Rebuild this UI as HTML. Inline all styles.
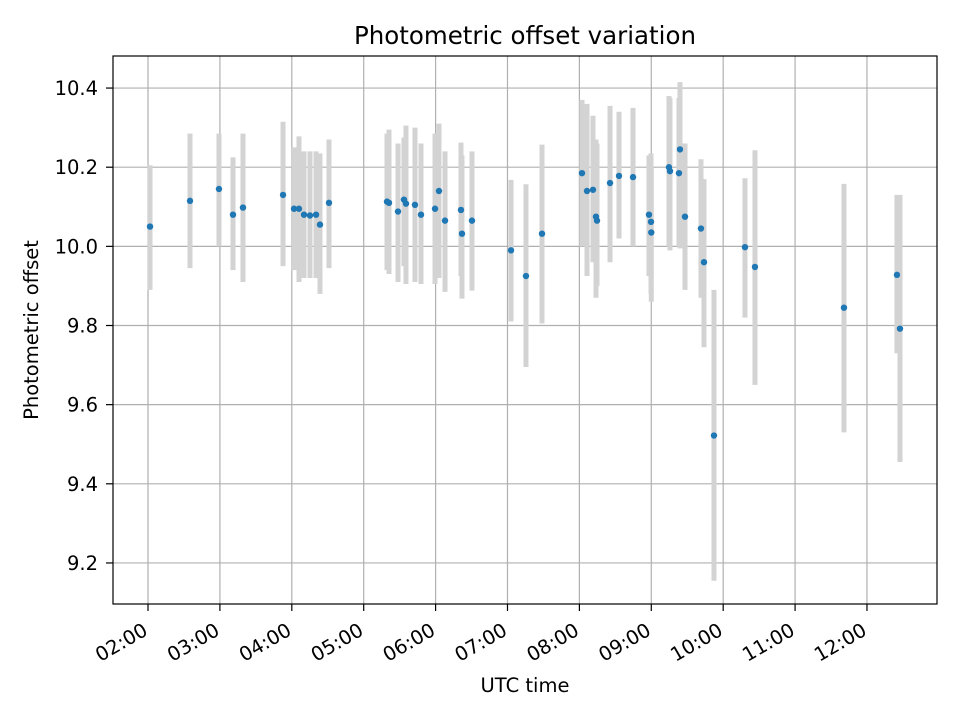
<!DOCTYPE html>
<html><head><meta charset="utf-8"><style>
body{margin:0;background:#fff}
svg text{font-family:"DejaVu Sans","Liberation Sans",sans-serif;fill:#000}
</style></head><body>
<svg id="chart" width="960" height="720" viewBox="0 0 960 720" xmlns="http://www.w3.org/2000/svg">
<rect width="960" height="720" fill="#fff"/>
<g id="grid"></g>
<g id="bars"></g>
<g id="points"></g>
<rect x="113" y="56" width="824" height="548" fill="none" stroke="#000" stroke-width="1.2"/>
<g id="ticks"></g>
<text x="525" y="44" font-size="24.5" text-anchor="middle">Photometric offset variation</text>
<text x="525" y="692" font-size="19.5" text-anchor="middle">UTC time</text>
<text x="38" y="330" font-size="19.5" text-anchor="middle" transform="rotate(-90 38 330)">Photometric offset</text>
</svg>
<script>
const times=[2.028,2.584,2.987,3.182,3.321,3.878,4.031,4.100,4.170,4.253,4.337,4.392,4.517,5.324,5.352,5.477,5.560,5.588,5.713,5.797,5.992,6.047,6.131,6.353,6.367,6.506,7.049,7.257,7.480,8.036,8.106,8.189,8.231,8.245,8.426,8.551,8.746,8.968,8.996,9.0,9.246,9.260,9.385,9.399,9.469,9.691,9.733,9.872,10.303,10.442,11.680,12.417,12.459];
const offsets=[10.05,10.115,10.145,10.08,10.098,10.13,10.095,10.095,10.08,10.078,10.08,10.055,10.11,10.113,10.11,10.088,10.118,10.108,10.105,10.08,10.095,10.14,10.065,10.092,10.032,10.065,9.99,9.925,10.032,10.185,10.14,10.143,10.075,10.065,10.16,10.178,10.175,10.08,10.062,10.035,10.2,10.19,10.185,10.245,10.075,10.045,9.96,9.522,9.998,9.948,9.845,9.928,9.792];
const lows=[9.89,9.945,10.0,9.94,9.91,9.95,9.94,9.91,9.92,9.92,9.92,9.88,9.945,9.94,9.93,9.91,9.95,9.905,9.91,9.905,9.905,9.92,9.885,9.925,9.868,9.888,9.81,9.695,9.805,10.0,9.925,9.96,9.87,9.9,9.96,10.02,10.0,9.925,9.88,9.86,10.0,9.99,10.0,9.995,9.89,9.87,9.745,9.155,9.82,9.65,9.53,9.73,9.455];
const highs=[10.205,10.285,10.285,10.225,10.285,10.315,10.25,10.278,10.24,10.24,10.24,10.235,10.27,10.285,10.295,10.26,10.275,10.305,10.30,10.26,10.285,10.31,10.24,10.262,10.23,10.24,10.168,10.157,10.257,10.37,10.36,10.33,10.27,10.26,10.355,10.34,10.35,10.23,10.235,10.2,10.38,10.375,10.375,10.415,10.26,10.22,10.17,9.89,10.172,10.243,10.158,10.13,10.13];
const yTicks=[9.2,9.4,9.6,9.8,10.0,10.2,10.4];
const xTickHours=[2,3,4,5,6,7,8,9,10,11,12];
const xTickLabels=["02:00","03:00","04:00","05:00","06:00","07:00","08:00","09:00","10:00","11:00","12:00"];
const X0=113,X1=937,Y0=604,Y1=56;
const xMin=1.513,xMax=12.974,yMin=9.0963,yMax=10.481;
const xs=h=>X0+(h-xMin)/(xMax-xMin)*(X1-X0);
const ys=v=>Y0-(v-yMin)/(yMax-yMin)*(Y0-Y1);
const NS="http://www.w3.org/2000/svg";
function mk(tag,attrs,parent){const e=document.createElementNS(NS,tag);for(const k in attrs)e.setAttribute(k,attrs[k]);document.getElementById(parent).appendChild(e);return e;}
yTicks.forEach(v=>{
  const y=ys(v);
  const g=mk('line',{x1:X0,x2:X1,y1:y,y2:y,stroke:'#b0b0b0','stroke-width':1.2},'grid');
  
  
  const t=mk('line',{x1:X0-7,x2:X0,y1:y,y2:y,stroke:'#000','stroke-width':1.2},'ticks');
  
  
  const l=mk('text',{x:X0-15,y:y+7,'font-size':19.5,'text-anchor':'end'},'ticks');
  l.textContent=v.toFixed(1);
  
  
});
xTickHours.forEach((h,i)=>{
  const x=xs(h);
  const g=mk('line',{x1:x,x2:x,y1:Y0,y2:Y1,stroke:'#b0b0b0','stroke-width':1.2},'grid');
  
  
  const t=mk('line',{x1:x,x2:x,y1:Y0,y2:Y0+7,stroke:'#000','stroke-width':1.2},'ticks');
  
  
  const l=mk('text',{x:x+1,y:Y0+30,'font-size':19.5,'text-anchor':'end',transform:`rotate(-30 ${x+1} ${Y0+30})`},'ticks');
  l.textContent=xTickLabels[i];
  
  
});
times.forEach((h,i)=>{
  const x=xs(h);
  const b=mk('line',{x1:x,x2:x,y1:ys(lows[i]),y2:ys(highs[i]),stroke:'#d3d3d3','stroke-width':5},'bars');
  
  
});
times.forEach((h,i)=>{
  const c=mk('circle',{cx:xs(h),cy:ys(offsets[i]),r:3.2,fill:'#1f77b4'},'points');
  
  
});
</script>
</body></html>
